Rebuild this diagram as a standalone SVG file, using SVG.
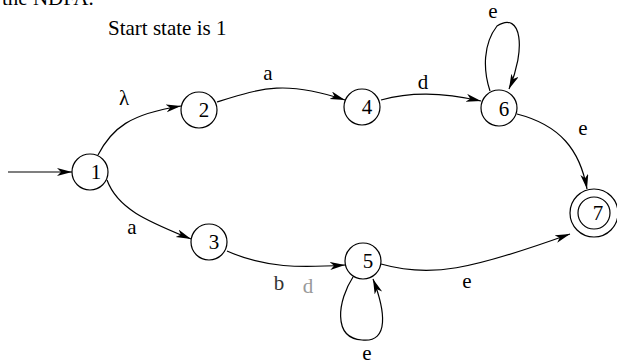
<svg xmlns="http://www.w3.org/2000/svg" width="617" height="364" viewBox="0 0 617 364">
  <defs>
    <marker id="arrow" markerUnits="userSpaceOnUse" markerWidth="16" markerHeight="10" refX="15" refY="4" orient="auto">
      <path d="M0,0 L15,4 L0,8 L4,4 Z" fill="#000"/>
    </marker>
  </defs>
  <style>
    .txt { font-family: "Liberation Serif", "Times New Roman", "DejaVu Serif", serif; font-size: 21px; fill: #000; }
    .lbl { font-family: "Liberation Serif", "Times New Roman", "DejaVu Serif", serif; font-size: 21px; fill: #000; text-anchor: middle; }
    .state { fill: #fff; stroke: #000; stroke-width: 1.2; }
    .edge { fill: none; stroke: #000; stroke-width: 1.2; marker-end: url(#arrow); }
  </style>
  <rect width="617" height="364" fill="#fff"/>

  <text class="txt" x="2" y="5">the NDFA.</text>
  <text class="txt" x="108" y="35">Start state is 1</text>

  <g id="connectors">
    <path class="edge" d="M8,172 L72,172"/>
    <path class="edge" d="M98,155 C112,128 130,114 181,106"/>
    <path class="edge" d="M217,102 C262,88 285,80 345,100"/>
    <path class="edge" d="M381,100 C410,92 440,92 481,101"/>
    <path class="edge" d="M490,91 C483,70 483,44 497,26 C522,10 526,50 509,89"/>
    <path class="edge" d="M517,114 C560,125 580,150 587,189"/>
    <path class="edge" d="M107,180 C118,210 150,222 191,239"/>
    <path class="edge" d="M227,251 C265,268 300,268 345,265"/>
    <path class="edge" d="M353,277 C338,300 332,338 362,340 C390,343 385,310 373,279"/>
    <path class="edge" d="M381,264 C430,278 470,270 570,234"/>
  </g>

  <g id="edge-labels">
    <text class="lbl" x="124" y="105">λ</text>
    <text class="lbl" x="268" y="80">a</text>
    <text class="lbl" x="423" y="89">d</text>
    <text class="lbl" x="493" y="18">e</text>
    <text class="lbl" x="583" y="135">e</text>
    <text class="lbl" x="132" y="234">a</text>
    <text class="lbl" x="279" y="290" style="fill:#333">b</text>
    <text class="lbl" x="308" y="293" style="fill:#999">d</text>
    <text class="lbl" x="367" y="360">e</text>
    <text class="lbl" x="467" y="288">e</text>
  </g>

  <g id="node-1"><circle class="state" cx="90" cy="172" r="18"/><text class="lbl" x="96" y="179">1</text></g>
  <g id="node-2"><circle class="state" cx="199" cy="110" r="18"/><text class="lbl" x="204" y="117">2</text></g>
  <g id="node-3"><circle class="state" cx="209" cy="242" r="18"/><text class="lbl" x="214" y="249">3</text></g>
  <g id="node-4"><circle class="state" cx="362" cy="107" r="18"/><text class="lbl" x="367" y="114">4</text></g>
  <g id="node-5"><circle class="state" cx="363" cy="261" r="18"/><text class="lbl" x="368" y="268">5</text></g>
  <g id="node-6"><circle class="state" cx="499" cy="108" r="18"/><text class="lbl" x="504" y="116">6</text></g>
  <g id="node-7">
    <circle class="state" cx="594" cy="213" r="24"/>
    <circle class="state" cx="594" cy="213" r="16"/>
    <text class="lbl" x="598" y="220">7</text>
  </g>
</svg>
